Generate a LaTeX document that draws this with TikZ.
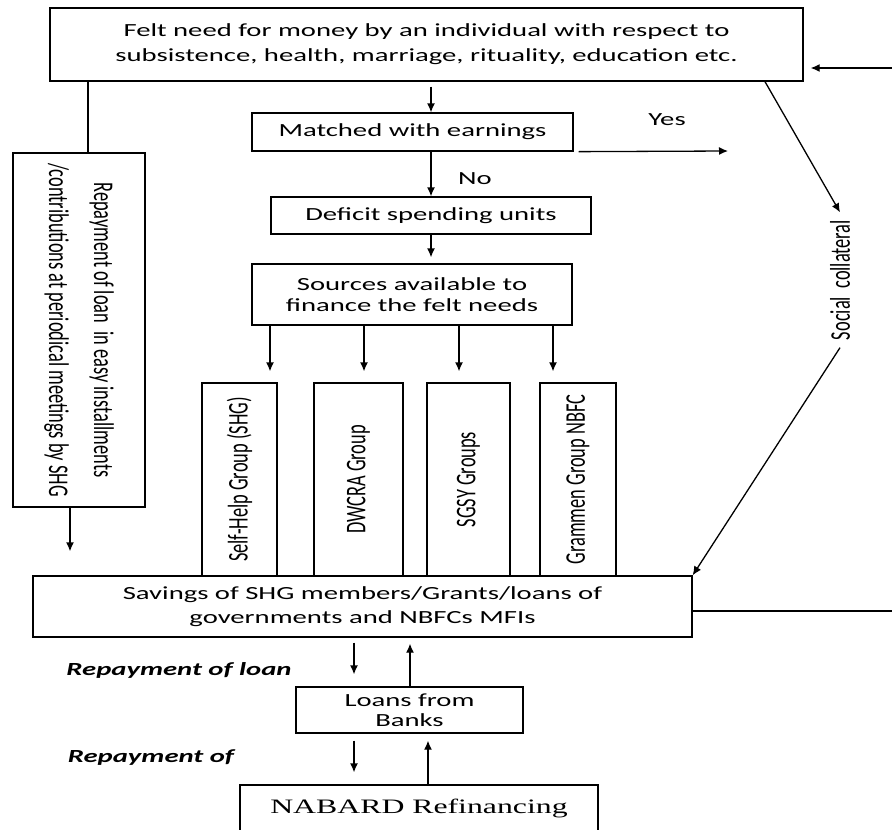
\documentclass[tikz,border=0pt]{standalone}
\usepackage{fontspec}
\setmainfont{Carlito}[FakeStretch=1.55]
\newfontfamily\sidefont{Carlito}[FakeStretch=0.645]
\newfontfamily\nabfont{Liberation Serif}[FakeStretch=1.55]
\usetikzlibrary{arrows.meta,positioning}

\begin{document}
\begin{tikzpicture}[x=1pt, y=-1pt, line width=1.3pt,
        box/.style={draw, rectangle, inner sep=2pt, align=center, font=\fontsize{18.5}{24}\selectfont},
        upbox/.style={draw, rectangle, inner sep=2pt, rotate=90, minimum width=193, font=\sidefont\fontsize{28.5}{34}\selectfont},
        lbl/.style={inner sep=1pt, font=\fontsize{18.5}{24}\selectfont},
        boldlbl/.style={inner sep=1pt, font=\bfseries\itshape\fontsize{18.5}{24}\selectfont},
        arr/.style={-{Latex[length=9pt,width=8pt]}}]
        \clip (0,0) rectangle (892,830);
        \node [box, minimum width=753, minimum height=73, font=\fontsize{18.5}{25}\selectfont] (need) at (426.5,44.5)
            {Felt need for money by an individual with respect to\\subsistence, health, marriage, rituality, education etc.};
        \node [box, minimum width=321, minimum height=38] (match) at (412.5,132) {Matched with earnings};
        \node [box, minimum width=320, minimum height=37] (deficit) at (431,215.5) {Deficit spending units};
        \node [box, minimum width=320, minimum height=61, font=\fontsize{18.5}{21}\selectfont] (sources) at (412,294.5)
            {Sources available to\\finance the felt needs};
        \node [draw, rectangle, rotate=-90, minimum width=354, minimum height=132, align=center,
            font=\sidefont\fontsize{28.5}{45}\selectfont] (repay) at (79,330)
            {Repayment of loan\ \ in easy installments\\/contributions at periodical meetings by SHG};
        \node [upbox, minimum height=75] (shg) at (239.5,479.5) {Self-Help Group (SHG)};
        \node [upbox, minimum height=89] (dwcra) at (358.5,479.5) {DWCRA Group};
        \node [upbox, minimum height=83] (sgsy) at (468.5,479.5) {SGSY Groups};
        \node [upbox, minimum height=76] (grammen) at (578,479.5) {Grammen Group NBFC};
        \node [box, minimum width=659, minimum height=61] (savings) at (362.5,606.5)
            {Savings of SHG members/Grants/loans of\\governments and NBFCs MFIs};
        \node [box, minimum width=227, minimum height=46, font=\fontsize{18.5}{20}\selectfont] (loans) at (409.5,710)
            {Loans from\\Banks};
        \node [box, minimum width=358, minimum height=46, font=\nabfont\fontsize{20.5}{24}\selectfont] (nabard) at (419,808)
            {NABARD Refinancing};
        \node [lbl, rotate=90, inner sep=7pt, font=\sidefont\fontsize{28.5}{34}\selectfont] (social) at (840,280)
            {Social\ \ collateral};
        \node [lbl] (yes) at (667,120) {Yes};
        \node [lbl] (no) at (475,179) {No};
        \node [boldlbl] (repayloan) at (179,670) {Repayment of loan};
        \node [boldlbl] (repayof) at (151,758) {Repayment of};
        \coordinate (yesend) at (728,151);
        \coordinate (fbin) at (892,68);
        \coordinate (fbout) at (892,611);

        \draw [arr] ([yshift=-5pt]need.south -| deficit.north) -- (match.north -| deficit.north);
        \draw [arr] (match.south -| deficit.north) -- (deficit.north);
        \draw [arr] (deficit.south) -- ([yshift=6pt]sources.north -| deficit.south);
        \draw [arr] ([xshift=5pt]match.south east) -- (yesend);
        \draw [arr] (sources.south -| 270,0) -- ([yshift=11pt]shg.east -| 270,0);
        \draw [arr] (sources.south -| 364,0) -- ([yshift=11pt]dwcra.east -| 364,0);
        \draw [arr] (sources.south -| 459,0) -- ([yshift=11pt]sgsy.east -| 459,0);
        \draw [arr] (sources.south -| 553,0) -- ([yshift=11pt]grammen.east -| 553,0);
        \draw (need.south -| 88,0) -- (repay.west -| 88,0);
        \draw [arr] (repay.east -| 70,0) -- ([yshift=24pt]savings.north -| 70,0);
        \draw [arr] (need.south -| 765,0) -- (social.east);
        \draw [arr] (social.west) -- (savings.north east);
        \draw [arr] (fbin) -- ([xshift=7pt]need.east |- fbin);
        \draw (savings.east |- fbout) -- (fbout);
        \draw [arr] ([yshift=-5pt]savings.south -| 354,0) -- ([yshift=12pt]loans.north -| 354,0);
        \draw [arr] (loans.north -| 410,0) -- ([yshift=-6pt]savings.south -| 410,0);
        \draw [arr] ([yshift=-7pt]loans.south -| 354,0) -- ([yshift=12pt]nabard.north -| 354,0);
        \draw [arr] (nabard.north -| 428,0) -- ([yshift=-7pt]loans.south -| 428,0);
    \end{tikzpicture}
\end{document}
